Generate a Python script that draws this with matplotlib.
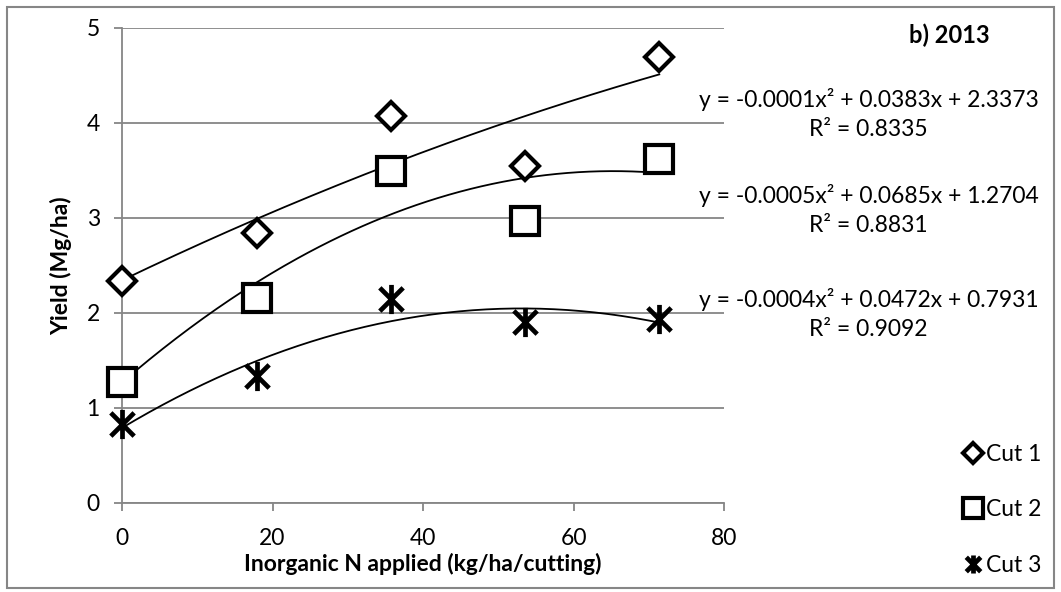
import numpy as np
import matplotlib
matplotlib.use("Agg")
import matplotlib.pyplot as plt
from matplotlib.patches import Rectangle
from matplotlib.path import Path

plt.rcParams['font.family'] = ['Lato', 'DejaVu Sans']

# data
n_applied = [0, 17.9, 35.7, 53.6, 71.4]
cut1 = [2.33, 2.84, 4.07, 3.54, 4.69]
cut2 = [1.27, 2.16, 3.49, 2.97, 3.62]
cut3 = [0.83, 1.33, 2.14, 1.90, 1.93]
labels = ["Cut 1", "Cut 2", "Cut 3"]
equations = [
    "y = -0.0001x² + 0.0383x + 2.3373\nR² = 0.8335",
    "y = -0.0005x² + 0.0685x + 1.2704\nR² = 0.8831",
    "y = -0.0004x² + 0.0472x + 0.7931\nR² = 0.9092",
]

# excel style star: an X with a vertical bar through it
star = Path([(0, -1), (0, 1), (-0.8, -0.8), (0.8, 0.8), (-0.8, 0.8), (0.8, -0.8)],
            [Path.MOVETO, Path.LINETO] * 3)

grey = "#868686"
fs = 16.5
fig = plt.figure(figsize=(10.61, 5.92), dpi=100)
ax = fig.add_axes([0.115, 0.1508, 0.5674, 0.8024])

styles = [
    dict(marker="D", ms=14, mew=3.0),
    dict(marker="s", ms=20, mew=3.0),
    dict(marker=star, ms=21, mew=3.4),
]
legend_ms = [10, 14, 13]

xs = np.linspace(min(n_applied), max(n_applied), 200)
for ys, st, lab in zip([cut1, cut2, cut3], styles, labels):
    coef = np.polyfit(n_applied, ys, 2)
    ax.plot(xs, np.polyval(coef, xs), color="black", lw=1.3, zorder=2)
    ax.plot(n_applied, ys, linestyle="none", color="black", mfc="white",
            mec="black", label=lab, zorder=3, clip_on=False, **st)

ax.set_xlim(0, 80)
ax.set_ylim(0, 5)
ax.set_xticks([0, 20, 40, 60, 80])
ax.set_yticks([0, 1, 2, 3, 4, 5])
ax.grid(axis="y", color=grey, lw=1.3)
ax.set_axisbelow(True)
for s in ["top", "right"]:
    ax.spines[s].set_visible(False)
for s in ["left", "bottom"]:
    ax.spines[s].set_color(grey)
    ax.spines[s].set_linewidth(1.3)
ax.tick_params(axis="both", colors=grey, labelcolor="black", labelsize=fs,
               length=6, width=1.3)
ax.tick_params(axis="y", pad=10)
ax.tick_params(axis="x", pad=12)
ax.set_xlabel("Inorganic N applied (kg/ha/cutting)", fontsize=fs,
              fontweight="bold", labelpad=3)
ax.set_ylabel("Yield (Mg/ha)", fontsize=fs, fontweight="bold", labelpad=10)

fig.text(0.8945, 0.94, "b) 2013", fontsize=17, fontweight="bold",
         ha="center", va="center")
eq_y = [0.807, 0.645, 0.47]
for t, yy in zip(equations, eq_y):
    fig.text(0.8185, yy, t, fontsize=fs, ha="center", va="center",
             linespacing=1.45)

leg_handles = []
for st, ms, lab in zip(styles, legend_ms, labels):
    h, = ax.plot([], [], linestyle="none", color="black", mfc="white",
                 mec="black", marker=st["marker"], ms=ms, mew=st["mew"],
                 label=lab)
    leg_handles.append(h)
fig.legend(handles=leg_handles, loc="lower left",
           bbox_to_anchor=(0.9, 0.012), frameon=False, fontsize=fs,
           labelspacing=1.5, handlelength=0.8, handletextpad=0.15,
           borderaxespad=0)

fig.patches.append(Rectangle((0.0069, 0.0068), 0.9865, 0.981,
                             transform=fig.transFigure, fill=False,
                             edgecolor=grey, lw=1.5))

fig.savefig("out.png", dpi=100)
